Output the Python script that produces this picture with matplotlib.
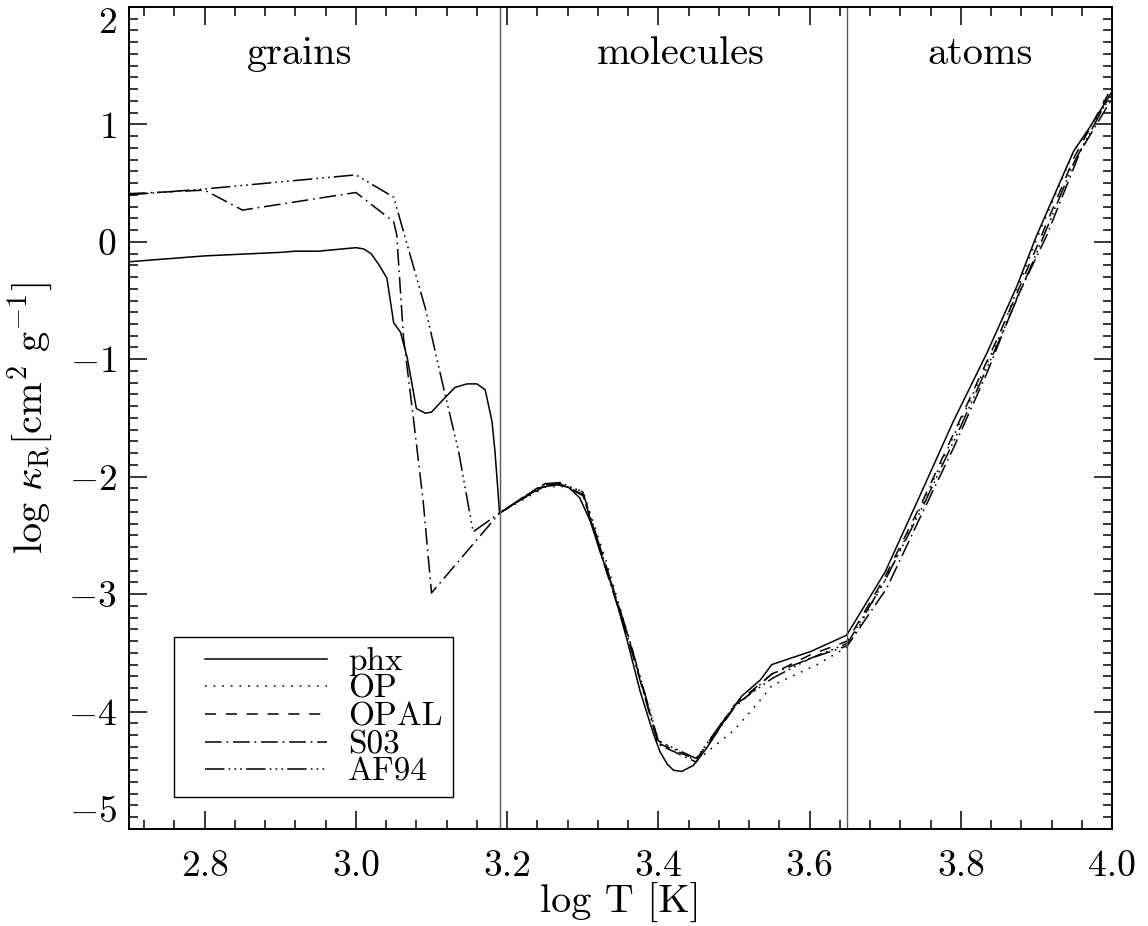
import numpy as np
import matplotlib
matplotlib.use('Agg')
import matplotlib.pyplot as plt
from matplotlib.ticker import MultipleLocator, FormatStrFormatter
from matplotlib.legend_handler import HandlerLine2D

plt.rcParams['font.family'] = ['cmr10', 'DejaVu Serif']
plt.rcParams['mathtext.fontset'] = 'cm'
plt.rcParams['axes.formatter.use_mathtext'] = True
plt.rcParams['axes.unicode_minus'] = True
plt.rcParams['lines.scale_dashes'] = False

# region boundaries (log T)
t_grain = 3.19
t_mol = 3.65

# phx
phx_x = [2.70, 2.80, 2.90, 2.92, 2.95, 3.00, 3.01, 3.02, 3.031, 3.041, 3.050, 3.059,
         3.068, 3.080, 3.092, 3.100, 3.116, 3.131, 3.147, 3.160, 3.171, 3.180, 3.184,
         3.190, 3.217, 3.239, 3.255, 3.266, 3.281, 3.296, 3.310, 3.323, 3.341, 3.359,
         3.376, 3.394, 3.402, 3.412, 3.420, 3.431, 3.446, 3.464, 3.486, 3.510, 3.535,
         3.550, 3.601, 3.649, 3.700, 3.746, 3.790, 3.835, 3.874, 3.900, 3.949, 3.971, 4.000]
phx_y = [-0.17, -0.12, -0.09, -0.08, -0.08, -0.05, -0.06, -0.10, -0.20, -0.31, -0.69, -0.77,
         -0.99, -1.42, -1.46, -1.45, -1.34, -1.24, -1.21, -1.21, -1.26, -1.53, -1.79,
         -2.31, -2.20, -2.10, -2.08, -2.07, -2.09, -2.18, -2.38, -2.64, -2.98, -3.40,
         -3.83, -4.20, -4.34, -4.45, -4.50, -4.51, -4.46, -4.31, -4.09, -3.87, -3.73,
         -3.60, -3.49, -3.35, -2.81, -2.16, -1.53, -0.94, -0.38, 0.05, 0.77, 0.98, 1.28]

# OP
op_x = [3.19, 3.22, 3.25, 3.27, 3.30, 3.33, 3.36, 3.40, 3.45, 3.50, 3.53, 3.55, 3.58,
        3.61, 3.65, 3.70, 3.75, 3.80, 3.85, 3.90, 3.95, 4.00]
op_y = [-2.31, -2.20, -2.09, -2.08, -2.12, -2.70, -3.35, -4.25, -4.42, -4.16, -3.94, -3.78,
        -3.69, -3.60, -3.45, -2.88, -2.22, -1.52, -0.82, 0.02, 0.78, 1.25]

# OPAL
opal_x = [3.19, 3.22, 3.25, 3.27, 3.30, 3.33, 3.36, 3.40, 3.45, 3.50, 3.55, 3.60, 3.65,
          3.70, 3.75, 3.80, 3.85, 3.90, 3.95, 4.00]
opal_y = [-2.31, -2.19, -2.08, -2.06, -2.16, -2.74, -3.36, -4.27, -4.41, -3.95, -3.68,
          -3.52, -3.40, -2.85, -2.20, -1.50, -0.80, -0.05, 0.72, 1.32]

# S03
s03_x = [2.70, 2.80, 2.85, 3.00, 3.05, 3.054, 3.063, 3.076, 3.089, 3.100, 3.19, 3.22,
         3.25, 3.27, 3.30, 3.33, 3.36, 3.40, 3.45, 3.50, 3.55, 3.60, 3.65, 3.702, 3.746,
         3.790, 3.835, 3.874, 3.914, 3.958, 4.00]
s03_y = [0.41, 0.44, 0.27, 0.42, 0.17, 0.06, -0.82, -1.50, -2.21, -2.99, -2.31, -2.19,
         -2.07, -2.06, -2.15, -2.78, -3.38, -4.28, -4.43, -3.97, -3.68, -3.55, -3.44, -2.95,
         -2.35, -1.76, -1.11, -0.48, 0.06, 0.77, 1.22]

# AF94
af94_x = [2.70, 2.80, 3.00, 3.05, 3.092, 3.114, 3.136, 3.155, 3.19, 3.22, 3.25, 3.27,
          3.30, 3.33, 3.36, 3.40, 3.45, 3.50, 3.55, 3.60, 3.65, 3.70, 3.75, 3.80, 3.85,
          3.90, 3.95, 4.00]
af94_y = [0.40, 0.45, 0.57, 0.38, -0.57, -1.19, -1.79, -2.47, -2.31, -2.18, -2.06, -2.05,
          -2.13, -2.75, -3.35, -4.25, -4.40, -3.95, -3.72, -3.55, -3.42, -2.88, -2.25,
          -1.57, -0.85, -0.10, 0.68, 1.28]

region_names = ['grains', 'molecules', 'atoms']
region_pos = [2.926, 3.43, 3.825]

fig = plt.figure(figsize=(11.48, 9.26), dpi=100)
ax = fig.add_axes([0.1124, 0.1048, 0.8563, 0.8877])

lw = 1.1
ax.plot(phx_x, phx_y, color='k', lw=lw, ls='-', label='phx')
ax.plot(op_x, op_y, color='k', lw=lw, ls=(0, (1.2, 5)), label='OP')
ax.plot(opal_x, opal_y, color='k', lw=lw, ls=(0, (8, 7)), label='OPAL')
ax.plot(s03_x, s03_y, color='k', lw=lw, ls=(0, (12, 3.5, 1.2, 3.5)), label='S03')
ax.plot(af94_x, af94_y, color='k', lw=lw,
        ls=(0, (14, 3, 1.2, 3, 1.2, 3, 1.2, 3)), label='AF94')

for t in (t_grain, t_mol):
    ax.axvline(t, color='0.35', lw=1.0)

for name, xp in zip(region_names, region_pos):
    ax.text(xp, 1.6, name, fontsize=29, ha='center', va='center')

ax.set_xlim(2.7, 4.0)
ax.set_ylim(-5, 2)
ax.xaxis.set_major_locator(MultipleLocator(0.2))
ax.xaxis.set_minor_locator(MultipleLocator(0.04))
ax.yaxis.set_major_locator(MultipleLocator(1))
ax.yaxis.set_minor_locator(MultipleLocator(0.1))
ax.xaxis.set_major_formatter(FormatStrFormatter('%.1f'))
ax.tick_params(which='both', direction='in', top=True, right=True, width=1.1)
ax.tick_params(which='major', length=13)
ax.tick_params(which='minor', length=6.5)
ax.tick_params(axis='x', labelsize=27, pad=15)
ax.tick_params(axis='y', labelsize=27, pad=9)
for sp in ax.spines.values():
    sp.set_linewidth(1.4)

ax.set_xlabel('log T [K]', fontsize=29, labelpad=0)
ax.set_ylabel(r'$\mathrm{log}\ \kappa_{\mathrm{R}}[\mathrm{cm}^2\ \mathrm{g}^{-1}]$',
              fontsize=29, labelpad=9)

# legend: line samples start a bit in from the frame like the original
hmap = {ln: HandlerLine2D(xpad=0.63) for ln in ax.get_lines()[:5]}
leg = ax.legend(loc='upper left', bbox_to_anchor=(0.0458, 0.2336), fontsize=24,
                frameon=True, fancybox=False, edgecolor='k', framealpha=1,
                handlelength=4.29, handletextpad=0.63, labelspacing=-0.05,
                borderpad=0.3, borderaxespad=0, handler_map=hmap)
leg.get_frame().set_linewidth(1.0)

# keep the end labels of the y axis inside the frame
fig.canvas.draw()
for tick in ax.yaxis.get_major_ticks():
    v = tick.get_loc()
    if np.isclose(v, 2):
        tick.label1.set_va('top')
    elif np.isclose(v, -5):
        tick.label1.set_va('bottom')

fig.savefig('out.png', dpi=100)
